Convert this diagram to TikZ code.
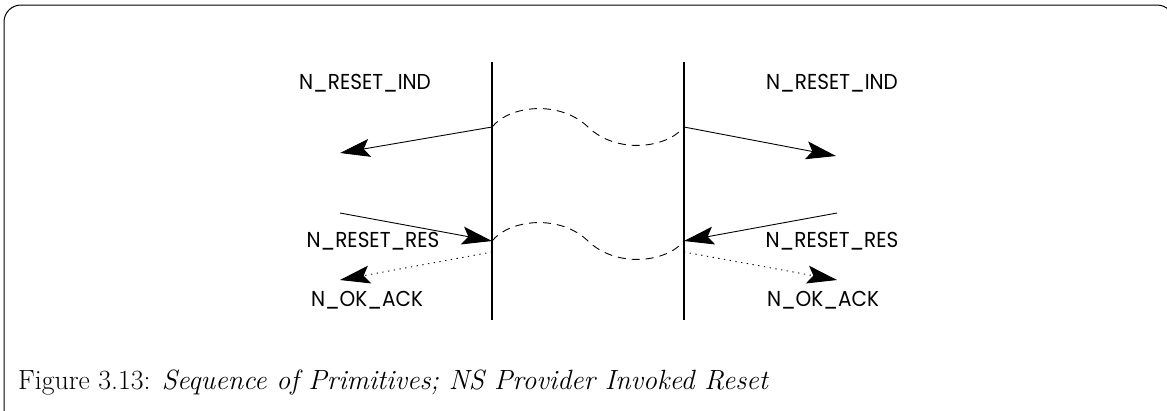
\documentclass[tikz,border=0pt]{standalone}
\usepackage{fontspec}
\usetikzlibrary{arrows.meta}
\newfontfamily\lblfont{Poppins}
\begin{document}
\begin{tikzpicture}[x=1pt,y=-1pt,
  lifeline/.style={line width=1.7pt},
  msg/.style={line width=0.9pt,-{Stealth[length=30pt,width=18pt,inset=6pt]}},
  conf/.style={msg,dash pattern=on 1.3pt off 4.5pt},
  gap/.style={line width=0.9pt,dash pattern=on 8pt off 6pt},
  prim/.style={font=\lblfont\fontsize{20}{22}\selectfont,inner sep=0pt,yscale=1.08},
  capt/.style={font=\fontsize{27.8}{32}\selectfont,inner sep=0pt,anchor=base west}]
\useasboundingbox (0,0) rectangle (1167,410);
% outer frame, its right and lower sides run past the page
\draw[line width=1pt,rounded corners=17pt] (4,5) rectangle (1174,430);

% the two service boundaries
\coordinate (lt) at (492,62);  \coordinate (lb) at (492,320);
\coordinate (rt) at (684,62);  \coordinate (rb) at (684,320);
\draw[lifeline] (lt) -- (lb);
\draw[lifeline] (rt) -- (rb);

% attachment points on the boundaries
\coordinate (lind) at (492,127); \coordinate (rind) at (684,127);
\coordinate (lres) at (492,241); \coordinate (rres) at (684,241);
\coordinate (lack) at (492,252); \coordinate (rack) at (684,252);

% free ends of the primitives
\coordinate (lindend) at (340,153); \coordinate (rindend) at (836,156);
\coordinate (lresbeg) at (340,213); \coordinate (rresbeg) at (837,213);
\coordinate (lackend) at (340,280); \coordinate (rackend) at (837,280);

% provider-side path between the two ends
\draw[gap] (lind) .. controls +(18,-22) and +(-28,-27) .. (588,127)
  .. controls +(28,27) and +(-18,22) .. (rind);
\draw[gap] (lres) .. controls +(18,-22) and +(-28,-27) .. (588,241)
  .. controls +(28,27) and +(-18,22) .. (rres);

% primitives
\draw[msg] (lind) -- (lindend);
\draw[msg] (rind) -- (rindend);
\draw[msg] (lresbeg) -- (lres);
\draw[msg] (rresbeg) -- (rres);
\draw[conf] (lack) -- (lackend);
\draw[conf] (rack) -- (rackend);

% labels
\node[prim] (tlind) at (365,83) {N\_RESET\_IND};
\node[prim] (trind) at (832,83) {N\_RESET\_IND};
\node[prim] (tlres) at (373,241) {N\_RESET\_RES};
\node[prim] (trres) at (832,241) {N\_RESET\_RES};
\node[prim] (tlack) at (367,300) {N\_OK\_ACK};
\node[prim] (track) at (823,300) {N\_OK\_ACK};

% caption
\node[capt] (cap) at (18,389) {Figure 3.13: \textit{Sequence of Primitives; NS Provider Invoked Reset}};
\end{tikzpicture}
\end{document}
